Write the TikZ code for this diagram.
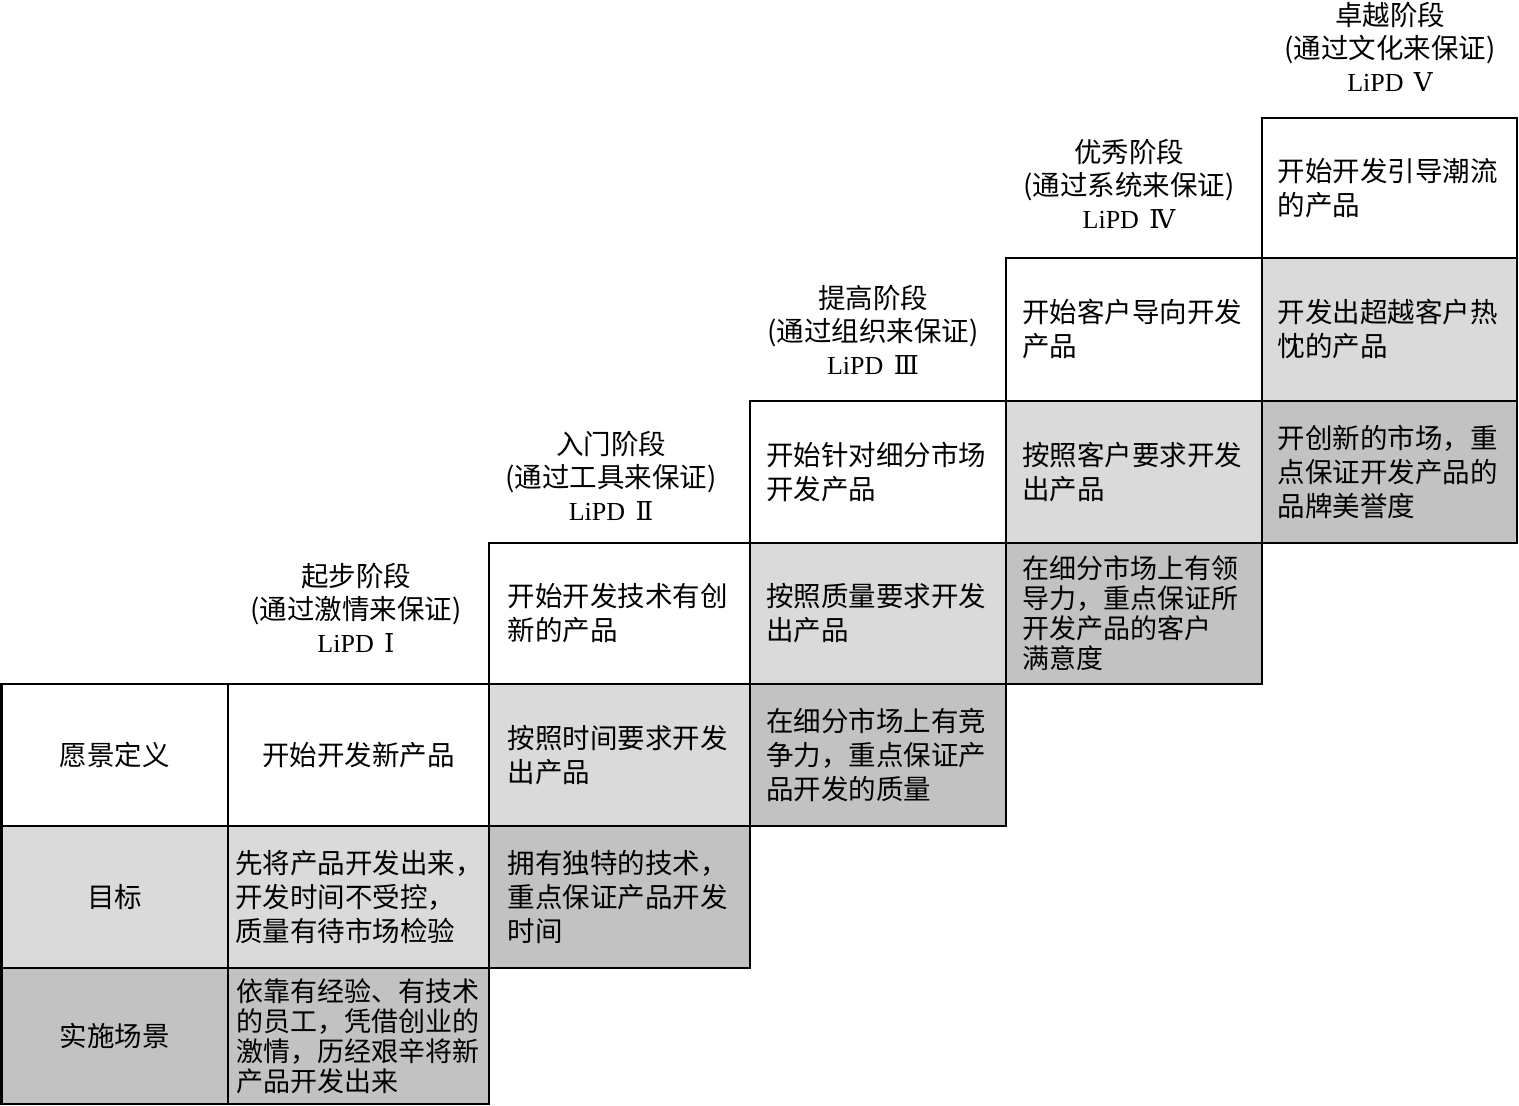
\documentclass[tikz,border=0pt]{standalone}
\usepackage{fontspec}
\setmainfont{Liberation Serif}
\newfontfamily\cjk{Noto Sans CJK SC}
\newfontfamily\numfont{DejaVu Serif}
\usetikzlibrary{positioning}

\definecolor{palegray}{gray}{0.855}
\definecolor{deepgray}{gray}{0.76}
\newcommand{\lipd}[1]{{\rmfamily\fontsize{26}{33}\selectfont LiPD\hspace{0.4em}{\numfont #1}}}

\begin{document}
\begin{tikzpicture}[x=1pt,y=-1pt,line join=miter,
    box/.style={anchor=north west,inner sep=0pt,outer sep=0pt,font=\cjk\fontsize{27.5}{34}\selectfont},
    txt/.style={box,align=left,text width=224pt},
    tight/.style={font=\cjk\fontsize{27}{30}\selectfont},
    hdr/.style={align=center,inner sep=0pt,font=\cjk\fontsize{27.5}{33}\selectfont},
    lightcell/.style={fill=palegray},
    darkcell/.style={fill=deepgray}]
  \useasboundingbox (0,0) rectangle (1519,1106);

  % row labels
  \node[box,align=center,minimum width=226.5pt,minimum height=142pt] (vision) at (1.5,684) {愿景定义};
  \node[box,lightcell,align=center,minimum width=226.5pt,minimum height=142pt] (goal) at (1.5,826) {目标};
  \node[box,darkcell,align=center,minimum width=226.5pt,minimum height=136pt] (scene) at (1.5,968) {实施场景};

  % stage 1
  \node[box,align=center,minimum width=261pt,minimum height=142pt] (v1) at (228,684) {开始开发新产品};
  \node[txt,lightcell,text width=247pt,minimum width=261pt,minimum height=142pt] (g1) at (228,826)
    {先将产品开发出来，\\开发时间不受控，\\质量有待市场检验};
  \node[txt,tight,darkcell,text width=245pt,minimum width=261pt,minimum height=136pt] (s1) at (228,968)
    {依靠有经验、有技术\\的员工，凭借创业的\\激情，历经艰辛将新\\产品开发出来};

  % stage 2
  \node[txt,minimum width=261pt,minimum height=141pt] (v2) at (489,543) {开始开发技术有创\\新的产品};
  \node[txt,lightcell,minimum width=261pt,minimum height=142pt] (g2) at (489,684) {按照时间要求开发\\出产品};
  \node[txt,darkcell,minimum width=261pt,minimum height=142pt] (s2) at (489,826)
    {拥有独特的技术，\\重点保证产品开发\\时间};

  % stage 3
  \node[txt,minimum width=256pt,minimum height=142pt] (v3) at (750,401) {开始针对细分市场\\开发产品};
  \node[txt,lightcell,minimum width=256pt,minimum height=141pt] (g3) at (750,543) {按照质量要求开发\\出产品};
  \node[txt,darkcell,minimum width=256pt,minimum height=142pt] (s3) at (750,684)
    {在细分市场上有竞\\争力，重点保证产\\品开发的质量};

  % stage 4
  \node[txt,minimum width=256pt,minimum height=143pt] (v4) at (1006,258) {开始客户导向开发\\产品};
  \node[txt,lightcell,minimum width=256pt,minimum height=142pt] (g4) at (1006,401) {按照客户要求开发\\出产品};
  \node[txt,tight,darkcell,minimum width=256pt,minimum height=141pt] (s4) at (1006,543)
    {在细分市场上有领\\导力，重点保证所\\开发产品的客户\\满意度};

  % stage 5
  \node[txt,minimum width=255pt,minimum height=140pt] (v5) at (1262,118) {开始开发引导潮流\\的产品};
  \node[txt,lightcell,minimum width=255pt,minimum height=143pt] (g5) at (1262,258) {开发出超越客户热\\忱的产品};
  \node[txt,darkcell,minimum width=255pt,minimum height=142pt] (s5) at (1262,401)
    {开创新的市场，重\\点保证开发产品的\\品牌美誉度};

  % borders
  \foreach \n in {vision,goal,scene,v1,g1,s1,v2,g2,s2,v3,g3,s3,v4,g4,s4,v5,g5,s5}
    \draw[line width=2.8pt] (\n.north west) rectangle (\n.south east);

  % stage headings
  \node[hdr] (stage1) at (356,608) {起步阶段\\(通过激情来保证)\\\lipd{Ⅰ}};
  \node[hdr] (stage2) at (611,476) {入门阶段\\(通过工具来保证)\\\lipd{Ⅱ}};
  \node[hdr] (stage3) at (873,330) {提高阶段\\(通过组织来保证)\\\lipd{Ⅲ}};
  \node[hdr] (stage4) at (1129,184) {优秀阶段\\(通过系统来保证)\\\lipd{Ⅳ}};
  \node[hdr] (stage5) at (1390,47) {卓越阶段\\(通过文化来保证)\\\lipd{Ⅴ}};
\end{tikzpicture}
\end{document}
